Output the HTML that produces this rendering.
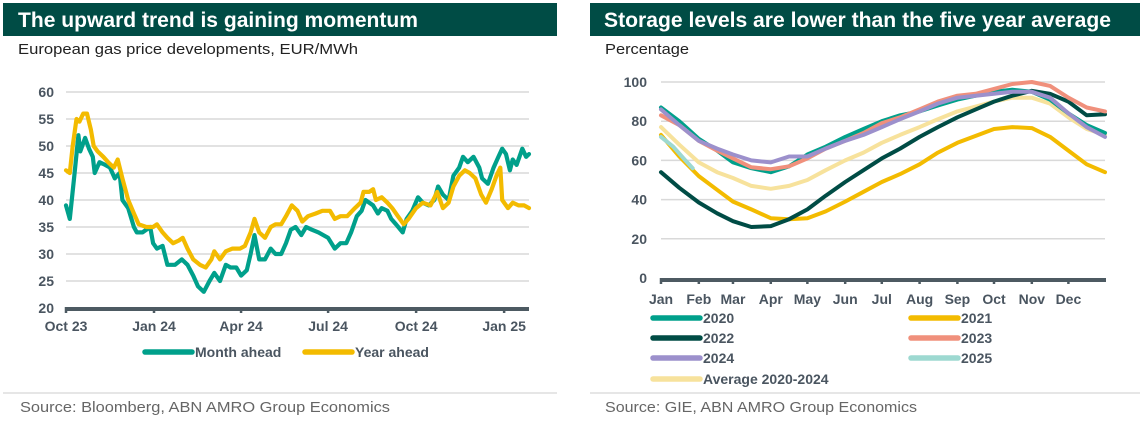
<!DOCTYPE html>
<html><head><meta charset="utf-8">
<style>
body{margin:0;background:#fff;width:1145px;height:424px;overflow:hidden;font-family:"Liberation Sans",sans-serif;}
svg{display:block}
text{font-family:"Liberation Sans",sans-serif;}
</style></head>
<body>
<svg id="s" width="1145" height="424" viewBox="0 0 1145 424" xmlns="http://www.w3.org/2000/svg">
  <rect x="3" y="3" width="554" height="33" fill="#004c45"/>
  <text x="18" y="27" fill="#fff" font-size="21" font-weight="bold" textLength="400" lengthAdjust="spacingAndGlyphs">The upward trend is gaining momentum</text>
  <text x="18" y="54" fill="#222" font-size="15" textLength="340" lengthAdjust="spacingAndGlyphs">European gas price developments, EUR/MWh</text>
  <rect x="590" y="3" width="550" height="33" fill="#004c45"/>
  <text x="604" y="27" fill="#fff" font-size="21" font-weight="bold" textLength="507" lengthAdjust="spacingAndGlyphs">Storage levels are lower than the five year average</text>
  <text x="605" y="54" fill="#222" font-size="15" textLength="84" lengthAdjust="spacingAndGlyphs">Percentage</text>
  <line x1="3" y1="393" x2="557" y2="393" stroke="#ccc"/>
  <line x1="590" y1="393" x2="1140" y2="393" stroke="#ccc"/>
  <text x="20" y="412" fill="#666" font-size="15" textLength="370" lengthAdjust="spacingAndGlyphs">Source: Bloomberg, ABN AMRO Group Economics</text>
  <text x="605" y="412" fill="#666" font-size="15" textLength="312" lengthAdjust="spacingAndGlyphs">Source: GIE, ABN AMRO Group Economics</text>
  <g id="L"></g><g id="R"></g>
</svg>
<script>
// ---- Left chart data (days since 1 Oct 2023) ----
const maDays=[0,4,9,13,15,20,24,28,30,35,41,46,51,56,59,65,71,74,80,88,91,95,101,106,114,121,127,133,138,144,150,155,161,167,172,178,183,189,193,197,202,208,214,219,225,230,235,240,246,251,257,264,274,281,287,293,298,304,309,313,321,326,330,336,340,345,352,356,362,368,373,379,385,389,394,400,405,411,415,420,426,432,435,441,447,452,456,460,464,467,471,477,481,484];
const maVals=[39,36.5,45,52,49,51.5,49.5,48,45,47,46.5,46,44,45,40,38.5,35,34,34,35,32,31,31.5,28,28,29,28,26,24,23,25,26.5,25,28,27.5,27.5,26,27,30,33.5,29,29,31,30,30,32,34.5,35,33.5,35,34.5,34,33,31,32,32,34,37,38,40,39,37.5,38.5,38,36.5,35.5,34,36.5,38,40.5,39.5,39,40,42.5,41,40,44.5,46,48,47,48,46,44,43,46,48,49.5,48.5,45.5,47.5,46.5,49.5,48,48.5];
const yaDays=[0,4,7,11,14,18,22,26,29,33,39,44,50,54,59,65,71,76,84,91,95,101,106,112,118,122,127,133,140,146,152,155,161,167,174,182,187,193,197,202,208,214,219,225,230,236,242,247,253,261,268,276,281,287,294,302,308,311,317,321,324,330,336,341,347,353,358,366,373,381,388,394,400,405,411,417,422,428,434,439,445,450,454,456,462,467,473,479,484];
const yaVals=[45.5,45,50,55,54.5,56,56,53,50,49,48,47,46,47.5,44,40,37.5,35.5,35,35,35.5,34,33,32,32.5,33,31,29,28,27.5,29,30.5,29,30.5,31,31,31.5,34,36.5,34,33,35,35.5,35.5,37,39,38,36,37,37.5,38,38,36.5,37,37,38.5,39.5,41.5,41.5,42,40,40.5,39.5,38.5,37,35.5,36.5,38.5,39.5,39,41.5,38.5,39.5,42.5,44.5,45.5,45,44,41,39.5,42,44.5,46,40,38.5,39.5,39,39,38.5];
const lYTicks=[20,25,30,35,40,45,50,55,60];
const lXLabels=["Oct 23","Jan 24","Apr 24","Jul 24","Oct 24","Jan 25"];
const lXTickDays=[0,92,183,274,366,458];
// ---- Right chart data (day of year) ----
const rDays=[0,15,31,46,59,74,90,105,120,135,151,166,181,196,212,227,243,258,273,288,304,319,334,349,364];
const s2020=[87,80,71,65,59,56,54,57,63,67,72,76,80,83,85,88,91,93,95,96,95,91,84,78,74];
const s2021=[73,62,52,45,39,35,30.5,30,30.5,34,39,44,49,53,58,64,69,72.5,76,77,76.5,72,65,58,54];
const s2022=[54,46,38.5,33,29,26,26.5,30,35,42,49,55,61,66,72,77,82,86,90,93,95.5,94,90,83,83.5];
const s2023=[83,78,70,65,61,56.5,55.5,57,61,66,70,74,79,82,86,90,93,94,96.5,99,100,98,92,87,85];
const s2024=[86,78,70,66,63,60,59,62,62,66,70,73,77,81,85,89,92,93,94,95,95,92,84,77,72];
const avgVals=[77,68,59,54,51,47,45.5,47,50,55,60,64,69,73,77,81,85,87.5,90,92,92,89,82,76,73];
const d2025=[0,10,20,26];
const s2025=[72,67,60,56];
const rYTicks=[0,20,40,60,80,100];
const rMonths=["Jan","Feb","Mar","Apr","May","Jun","Jul","Aug","Sep","Oct","Nov","Dec"];
const rMonthDays=[0,31,59,90,120,151,181,212,243,273,304,334];

const NS="http://www.w3.org/2000/svg";
function mk(p,tag,attrs){const e=document.createElementNS(NS,tag);for(const k in attrs)e.setAttribute(k,attrs[k]);p.appendChild(e);return e;}
const GREEN="#00a08b",YEL="#f3bb00";
const TK={'font-size':14,fill:'#4a5560','font-weight':'bold'};

const lx=d=>66+d*(529-66)/484, ly=v=>308-(v-20)*5.4;
const L=document.getElementById('L');
lYTicks.forEach(v=>{
  if(v>20){const g=mk(L,'line',{x1:66,x2:529,y1:ly(v),y2:ly(v),stroke:'#d9d9d9','stroke-width':1.5});
  
  }
  const t=mk(L,'text',Object.assign({x:54,y:ly(v)+5,'text-anchor':'end'},TK));t.textContent=v;
  
  
});
function poly(p,xs,ys,fx,fy,col,w,name){
  const pts=xs.map((d,i)=>fx(d).toFixed(1)+','+fy(ys[i]).toFixed(1)).join(' ');
  const e=mk(p,'polyline',{points:pts,fill:'none',stroke:col,'stroke-width':w,'stroke-linejoin':'round','stroke-linecap':'round'});
  
  
}
poly(L,maDays,maVals,lx,ly,GREEN,4.2,'month-ahead-line');
poly(L,yaDays,yaVals,lx,ly,YEL,4.2,'year-ahead-line');
const lax=mk(L,'line',{x1:66,x2:529,y1:309,y2:309,stroke:'#4d5a62','stroke-width':4});


lXLabels.forEach((s,i)=>{
  const x=lx(lXTickDays[i]);
  const tk=mk(L,'line',{x1:x,x2:x,y1:307,y2:313,stroke:'#4d5a62','stroke-width':2.5});
  
  
  const t=mk(L,'text',Object.assign({x:x,y:331,'text-anchor':'middle'},TK));t.textContent=s;
  
  
});
function legend(p,x,y,col,label,name){
  const g=mk(p,'g',{});
  
  
  mk(g,'line',{x1:x,x2:x+47,y1:y,y2:y,stroke:col,'stroke-width':5.5,'stroke-linecap':'round'});
  const t=mk(g,'text',Object.assign({x:x+50,y:y+5},TK));t.textContent=label;
}
legend(L,145,352,GREEN,'Month ahead','legend-month-ahead');
legend(L,305,352,YEL,'Year ahead','legend-year-ahead');

const rx=d=>661+d*(1105-661)/364, ry=v=>278-v*1.96;
const R=document.getElementById('R');
rYTicks.forEach(v=>{
  if(v>0){const g=mk(R,'line',{x1:661,x2:1105,y1:ry(v),y2:ry(v),stroke:'#d9d9d9','stroke-width':1.5});
  
  }
  const t=mk(R,'text',Object.assign({x:647,y:ry(v)+5,'text-anchor':'end'},TK));t.textContent=v;
  
  
});
poly(R,rDays,avgVals,rx,ry,'#f7e29c',4,'avg-2020-2024-line');
poly(R,rDays,s2021,rx,ry,YEL,4,'line-2021');
poly(R,rDays,s2022,rx,ry,'#004c45',4,'line-2022');
poly(R,rDays,s2020,rx,ry,GREEN,4,'line-2020');
poly(R,rDays,s2023,rx,ry,'#f0907c',4,'line-2023');
poly(R,rDays,s2024,rx,ry,'#9c90cc',4,'line-2024');
poly(R,d2025,s2025,rx,ry,'#9dd9d1',4,'line-2025');
const rax=mk(R,'line',{x1:660,x2:1106,y1:280,y2:280,stroke:'#4d5a62','stroke-width':4});


rMonths.forEach((s,i)=>{
  const x=rx(rMonthDays[i]);
  const tk=mk(R,'line',{x1:x,x2:x,y1:278,y2:284,stroke:'#4d5a62','stroke-width':2.5});
  
  
  const t=mk(R,'text',Object.assign({x:x,y:304,'text-anchor':'middle'},TK));t.textContent=s;
  
  
});
legend(R,653,318,GREEN,'2020','legend-2020');
legend(R,911,318,YEL,'2021','legend-2021');
legend(R,653,338,'#004c45','2022','legend-2022');
legend(R,911,338,'#f0907c','2023','legend-2023');
legend(R,653,358,'#9c90cc','2024','legend-2024');
legend(R,911,358,'#9dd9d1','2025','legend-2025');
legend(R,653,379,'#f7e29c','Average 2020-2024','legend-average');
</script>
</body></html>
